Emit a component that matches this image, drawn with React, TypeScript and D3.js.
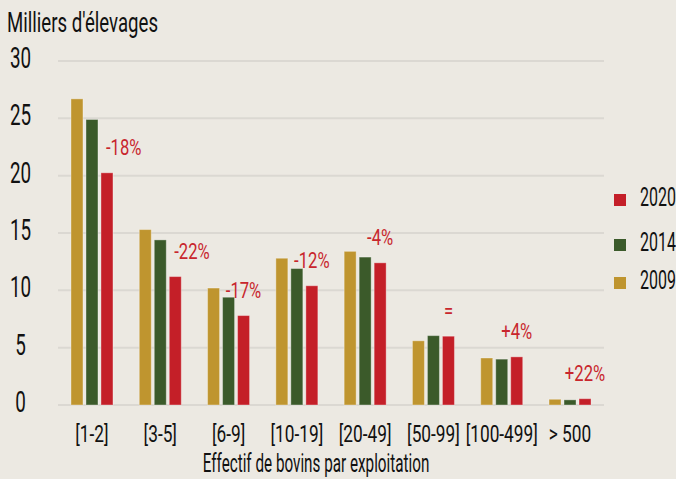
import * as d3 from "d3";
import type { ReactNode } from "react";

const categories = ["[1-2]", "[3-5]", "[6-9]", "[10-19]", "[20-49]", "[50-99]", "[100-499]", "> 500"];
const years = ["2009", "2014", "2020"];
const values2009 = [26.7, 15.3, 10.2, 12.8, 13.4, 5.6, 4.1, 0.5];
const values2014 = [24.9, 14.4, 9.4, 11.9, 12.9, 6.05, 4.0, 0.45];
const values2020 = [20.25, 11.2, 7.8, 10.4, 12.4, 6.0, 4.2, 0.55];
const changes = ["-18%", "-22%", "-17%", "-12%", "-4%", "=", "+4%", "+22%"];
const yTicks = [0, 5, 10, 15, 20, 25, 30];

const COLORS = ["#bf952f", "#3b5a2a", "#c41f28"];
const FONT = "Roboto, 'DejaVu Sans Condensed', sans-serif";

// condensed text: the source font is a narrow grotesque, so squeeze Roboto horizontally
function CText(props: { x: number, y: number, size: number, sx: number, anchor?: string, fill?: string, children: ReactNode }) {
    const { x, y, size, sx, anchor = "start", fill = "#111", children } = props;
    return (
        <text transform={`translate(${x},${y}) scale(${sx},1)`} fontSize={size} textAnchor={anchor} fill={fill}>
            {children}
        </text>
    );
}

export default function App() {
    const width = 676;
    const height = 479;
    const series = [values2009, values2014, values2020];

    const x = d3.scaleBand<string>().domain(categories).range([58, 604]).paddingInner(0.385).paddingOuter(0.19);
    const xInner = d3.scaleBand<string>().domain(years).range([0, x.bandwidth()]).paddingInner(0.2);
    const y = d3.scaleLinear().domain([0, 30]).range([405, 61]);
    const color = d3.scaleOrdinal<string>().domain(years).range(COLORS);

    // legend rows, top to bottom
    const legendYears = ["2020", "2014", "2009"];
    const legendY = [194, 239, 277];

    return (
        <svg width={width} height={height} style={{ position: "absolute", left: 0, top: 0 }} fontFamily={FONT}>
            <rect width={width} height={height} fill="#ece9e2" />
            <CText x={7} y={32} size={28} sx={0.665}>Milliers d'élevages</CText>
            {yTicks.map(t => (
                <g key={t}>
                    <line x1={58} x2={604} y1={y(t)} y2={y(t)} stroke="#dbd8d2" strokeWidth={2} />
                    <CText x={20.5} y={y(t) + 7} size={29} sx={0.65} anchor="middle">{t}</CText>
                </g>
            ))}
            {categories.map((c, i) => (
                <g key={c} transform={`translate(${x(c)},0)`}>
                    {years.map((yr, j) => (
                        <rect key={yr} x={xInner(yr)} y={y(series[j][i])} width={xInner.bandwidth()}
                            height={y(0) - y(series[j][i])} fill={color(yr)}
                            stroke="rgba(255,255,255,0.35)" strokeWidth={1} />
                    ))}
                    <CText
                        x={i < 2 ? xInner("2020")! + 5 : xInner("2020")! + xInner.bandwidth() / 2}
                        y={y(values2020[i]) - 18}
                        anchor={i < 2 ? "start" : "middle"}
                        size={22.5} sx={0.74} fill="#c8262d">{changes[i]}</CText>
                    <CText x={x.bandwidth() / 2} y={442} anchor="middle" size={24} sx={0.72}>{c}</CText>
                </g>
            ))}
            <CText x={316} y={472} anchor="middle" size={25} sx={0.61}>Effectif de bovins par exploitation</CText>
            {legendYears.map((yr, k) => (
                <g key={yr}>
                    <rect x={614} y={legendY[k]} width={12} height={12} fill={color(yr)} />
                    <CText x={640} y={legendY[k] + 12} size={25} sx={0.64}>{yr}</CText>
                </g>
            ))}
        </svg>
    );
}
